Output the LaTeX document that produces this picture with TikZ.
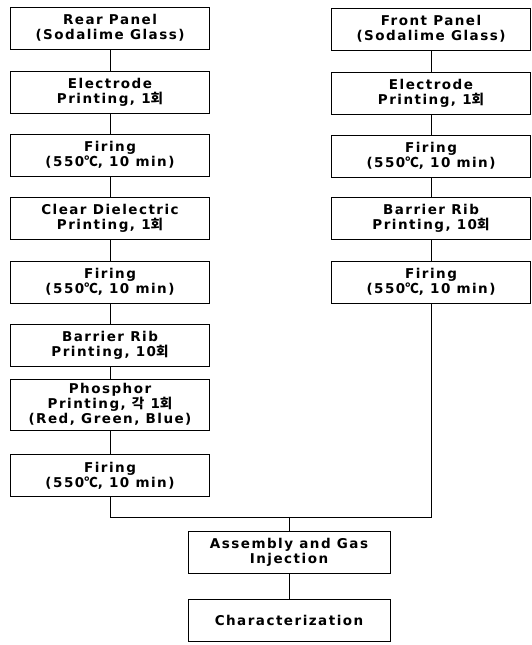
\documentclass[tikz,border=0pt]{standalone}
\usepackage{fontspec}
\setmainfont{DejaVu Sans}[LetterSpace=11]
\newfontfamily\kr{Noto Sans CJK KR}
\newcommand{\hoe}{{\kr 회}}
\newcommand{\degc}{{\kr ℃}}
\begin{document}
\begin{tikzpicture}[
    x=1pt, y=1pt,
    procbox/.style={rectangle, minimum width=199pt, minimum height=42pt, inner sep=0pt,
                    draw=black, line width=0.9pt, align=center,
                    font=\fontsize{13.5}{15}\selectfont\bfseries},
    conn/.style={draw=black, line width=0.7pt}
]

\useasboundingbox (0,0) rectangle (531,645);

%% Rear panel column (x=110) %%
\node[procbox] (rpanel) at (110,617)   {Rear Panel\\(Sodalime Glass)};
\node[procbox] (relec)  at (110,553)   {Electrode\\Printing, 1\hoe};
\node[procbox] (rfire1) at (110,490)   {Firing\\(550\degc, 10 min)};
\node[procbox] (rdiel)  at (110,427)   {Clear Dielectric\\Printing, 1\hoe};
\node[procbox] (rfire2) at (110,363)   {Firing\\(550\degc, 10 min)};
\node[procbox] (rrib)   at (110,300)   {Barrier Rib\\Printing, 10\hoe};
\node[procbox, minimum height=51pt] (rphos) at (110,240.5)
    {Phosphor\\Printing, {\kr 각} 1\hoe\\(Red, Green, Blue)};
\node[procbox] (rfire3) at (110,169.5) {Firing\\(550\degc, 10 min)};

%% Front panel column (x=431) %%
\node[procbox] (fpanel) at (431,616)   {Front Panel\\(Sodalime Glass)};
\node[procbox] (felec)  at (431,552)   {Electrode\\Printing, 1\hoe};
\node[procbox] (ffire1) at (431,489)   {Firing\\(550\degc, 10 min)};
\node[procbox] (frib)   at (431,426.5) {Barrier Rib\\Printing, 10\hoe};
\node[procbox] (ffire2) at (431,363)   {Firing\\(550\degc, 10 min)};

%% Joined steps %%
\coordinate (join) at (289,128);
\node[procbox, minimum width=202pt] (asm)  at (289,93)   {Assembly and Gas\\Injection};
\node[procbox, minimum width=202pt] (char) at (289,24.5) {Characterization};

%% Lines %%

% Rear panel chain
\draw[conn] (rpanel) -- (relec);
\draw[conn] (relec)  -- (rfire1);
\draw[conn] (rfire1) -- (rdiel);
\draw[conn] (rdiel)  -- (rfire2);
\draw[conn] (rfire2) -- (rrib);
\draw[conn] (rrib)   -- (rphos);
\draw[conn] (rphos)  -- (rfire3);

% Front panel chain
\draw[conn] (fpanel) -- (felec);
\draw[conn] (felec)  -- (ffire1);
\draw[conn] (ffire1) -- (frib);
\draw[conn] (frib)   -- (ffire2);

% Both panels -> assembly -> characterization
\draw[conn] (rfire3.south) |- (join);
\draw[conn] (ffire2.south) |- (join);
\draw[conn] (join) -- (asm.north);
\draw[conn] (asm) -- (char);

\end{tikzpicture}
\end{document}
